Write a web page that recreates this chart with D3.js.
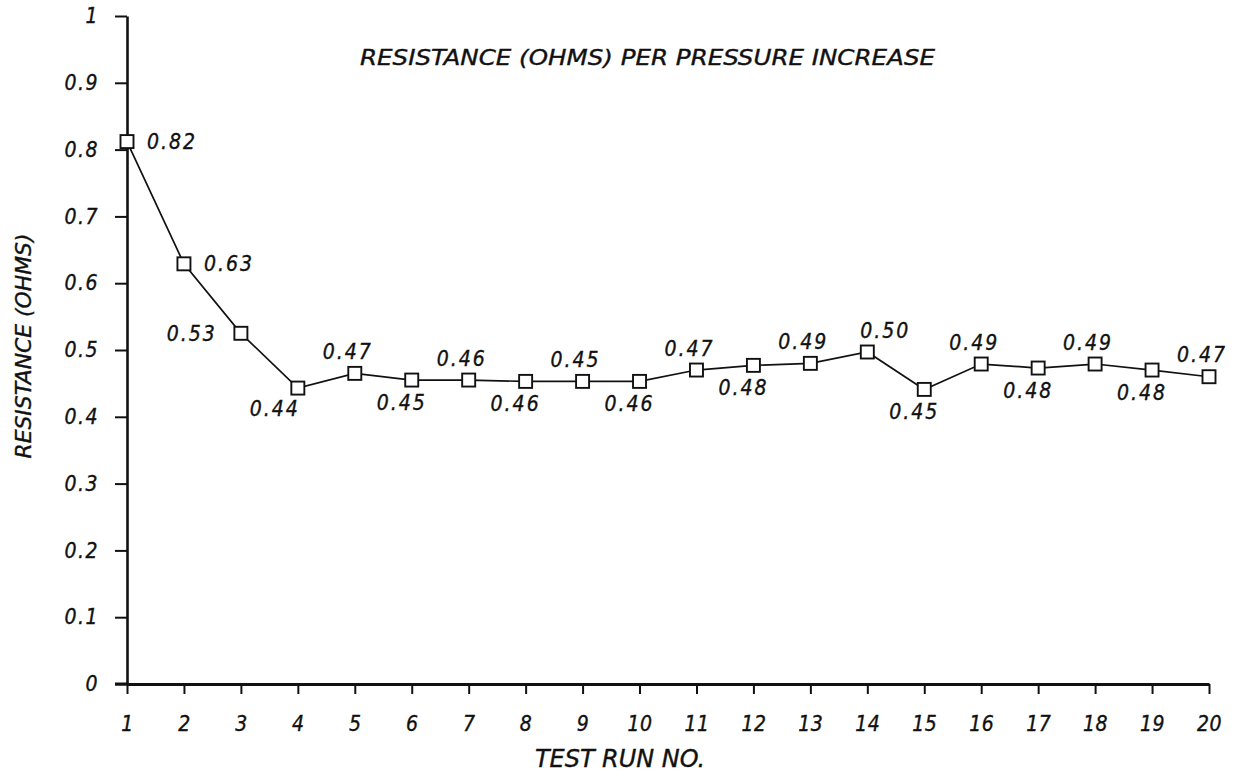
<!DOCTYPE html>
<html>
<head>
<meta charset="utf-8">
<script src="https://cdn.jsdelivr.net/npm/d3@7"></script>
<style>
  html, body { margin: 0; padding: 0; background: #fff; }
  svg { display: block; }
  text { font-family: "Liberation Sans Narrow", "DejaVu Sans Condensed", "Liberation Sans", sans-serif; font-style: italic; fill: #111; stroke: #111; stroke-width: 0.35px; }
</style>
</head>
<body>
<svg id="chart" width="1238" height="776"></svg>
<script>
// ---- data ----
const runs = [1,2,3,4,5,6,7,8,9,10,11,12,13,14,15,16,17,18,19,20];
const resistance = [0.812,0.629,0.525,0.443,0.465,0.455,0.455,0.453,0.453,0.453,0.470,0.477,0.480,0.497,0.441,0.479,0.473,0.479,0.470,0.460];
const pointLabels = ["0.82","0.63","0.53","0.44","0.47","0.45","0.46","0.46","0.45","0.46","0.47","0.48","0.49","0.50","0.45","0.49","0.48","0.49","0.48","0.47"];
const labelSide = ["right","right","left","belowleft","above","below","above","below","above","below","above","below","above","aboveright","below","above","below","above","below","above"];
const yTicks = [0,0.1,0.2,0.3,0.4,0.5,0.6,0.7,0.8,0.9,1];
const yTickLabels = ["0","0.1","0.2","0.3","0.4","0.5","0.6","0.7","0.8","0.9","1"];
const titleText = "RESISTANCE (OHMS) PER PRESSURE INCREASE";
const xTitle = "TEST RUN NO.";
const yTitle = "RESISTANCE (OHMS)";

// ---- drawing ----
const svg = d3.select("#chart");
const x = d3.scaleLinear().domain([1, 20]).range([127, 1209]);
const y = d3.scaleLinear().domain([0, 1]).range([684, 16]);

const ink = "#111";

// Y axis
const yAxis = d3.axisLeft(y).tickValues(yTicks)
  .tickFormat((d, i) => yTickLabels[i]).tickSize(12).tickPadding(16).tickSizeOuter(0);
const gy = svg.append("g").attr("transform", `translate(${x(1)},0)`).call(yAxis);
gy.select(".domain").attr("stroke", ink).attr("stroke-width", 2.6);
gy.selectAll(".tick line").attr("stroke", ink).attr("stroke-width", 2);
gy.selectAll(".tick text").attr("font-size", 21).attr("letter-spacing", 1.5);

// X axis
const xAxis = d3.axisBottom(x).tickValues(runs).tickFormat(d => String(d))
  .tickSize(10).tickPadding(22).tickSizeOuter(0);
const gx = svg.append("g").attr("transform", `translate(0,${y(0)})`).call(xAxis);
gx.select(".domain").attr("stroke", ink).attr("stroke-width", 3);
gx.selectAll(".tick line").attr("stroke", ink).attr("stroke-width", 2);
gx.selectAll(".tick text").attr("font-size", 21).attr("letter-spacing", 0.5);
// small leftward stub of x-axis line
svg.append("line").attr("x1", x(1) - 12).attr("x2", x(1)).attr("y1", y(0)).attr("y2", y(0))
  .attr("stroke", ink).attr("stroke-width", 3);

// line
const line = d3.line().x((d, i) => x(runs[i])).y(d => y(d));
svg.append("path").datum(resistance).attr("d", line)
  .attr("fill", "none").attr("stroke", ink).attr("stroke-width", 1.7);

// markers
const ms = 13;
svg.append("g").selectAll("rect").data(resistance).join("rect")
  .attr("x", (d, i) => x(runs[i]) - ms / 2)
  .attr("y", d => y(d) - ms / 2)
  .attr("width", ms).attr("height", ms)
  .attr("fill", "#fff").attr("stroke", ink).attr("stroke-width", 1.9);

// point labels
const off = {
  right: [20, 0, "start"],
  left: [-24, 0, "end"],
  belowleft: [2, 20, "end"],
  above: [-7, -22, "middle"],
  below: [-10, 22, "middle"],
  aboveright: [18, -22, "middle"]
};
svg.append("g").selectAll("text").data(resistance).join("text")
  .attr("x", (d, i) => x(runs[i]) + off[labelSide[i]][0])
  .attr("y", (d, i) => y(d) + off[labelSide[i]][1])
  .attr("dy", "0.36em")
  .attr("text-anchor", (d, i) => off[labelSide[i]][2])
  .attr("font-size", 21).attr("letter-spacing", 2)
  .text((d, i) => pointLabels[i]);

// title
svg.append("text").attr("x", 360).attr("y", 57).attr("dy", "0.36em")
  .attr("font-size", 22).attr("textLength", 575).attr("lengthAdjust", "spacingAndGlyphs")
  .text(titleText);

// x title
svg.append("text").attr("x", 535).attr("y", 758).attr("dy", "0.36em")
  .attr("font-size", 24).attr("textLength", 170).attr("lengthAdjust", "spacingAndGlyphs")
  .text(xTitle);

// y title
svg.append("text").attr("transform", "translate(23,346) rotate(-90)")
  .attr("text-anchor", "middle").attr("dy", "0.36em")
  .attr("font-size", 22).attr("textLength", 225).attr("lengthAdjust", "spacingAndGlyphs")
  .text(yTitle);
</script>
</body>
</html>
